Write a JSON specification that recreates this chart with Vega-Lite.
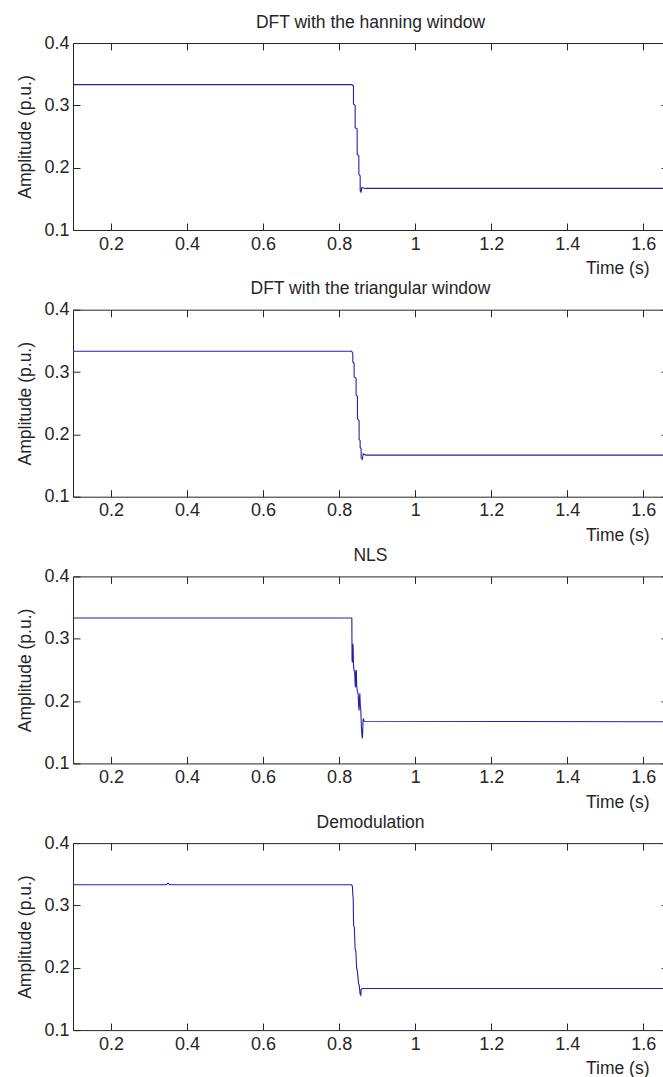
{
  "$schema": "https://vega.github.io/schema/vega-lite/v6.json",
  "background": "white",
  "padding": {"left": 16, "top": 13, "right": 0, "bottom": 0},
  "autosize": {"type": "pad"},
  "bounds": "flush",
  "spacing": 79.7,
  "datasets": {
    "hanning": [
      {"t": 0.1, "a": 0.3333}, {"t": 0.8334, "a": 0.3333}, {"t": 0.8377, "a": 0.331}, {"t": 0.8378, "a": 0.302},
      {"t": 0.8421, "a": 0.300}, {"t": 0.8422, "a": 0.264}, {"t": 0.8474, "a": 0.262}, {"t": 0.8475, "a": 0.221},
      {"t": 0.8518, "a": 0.219}, {"t": 0.8519, "a": 0.189}, {"t": 0.8553, "a": 0.187}, {"t": 0.8554, "a": 0.163},
      {"t": 0.8575, "a": 0.161}, {"t": 0.8597, "a": 0.168}, {"t": 0.87, "a": 0.1667}, {"t": 1.665, "a": 0.1667}
    ],
    "triangular": [
      {"t": 0.1, "a": 0.3333}, {"t": 0.833, "a": 0.3333}, {"t": 0.8359, "a": 0.330}, {"t": 0.836, "a": 0.316},
      {"t": 0.8394, "a": 0.314}, {"t": 0.8395, "a": 0.292}, {"t": 0.8446, "a": 0.290}, {"t": 0.8447, "a": 0.263},
      {"t": 0.8481, "a": 0.261}, {"t": 0.8482, "a": 0.225}, {"t": 0.8525, "a": 0.222}, {"t": 0.8526, "a": 0.192},
      {"t": 0.8552, "a": 0.190}, {"t": 0.8553, "a": 0.179}, {"t": 0.8578, "a": 0.177}, {"t": 0.8579, "a": 0.162},
      {"t": 0.861, "a": 0.160}, {"t": 0.8635, "a": 0.169}, {"t": 0.87, "a": 0.1667}, {"t": 1.665, "a": 0.1667}
    ],
    "nls": [
      {"t": 0.1, "a": 0.3333}, {"t": 0.8334, "a": 0.3333}, {"t": 0.834, "a": 0.265}, {"t": 0.835, "a": 0.262},
      {"t": 0.836, "a": 0.292}, {"t": 0.8368, "a": 0.287}, {"t": 0.8378, "a": 0.258}, {"t": 0.839, "a": 0.250},
      {"t": 0.841, "a": 0.246}, {"t": 0.842, "a": 0.228}, {"t": 0.843, "a": 0.222}, {"t": 0.844, "a": 0.248},
      {"t": 0.8452, "a": 0.250}, {"t": 0.8462, "a": 0.225}, {"t": 0.848, "a": 0.215}, {"t": 0.85, "a": 0.212},
      {"t": 0.8515, "a": 0.190}, {"t": 0.8525, "a": 0.185}, {"t": 0.8535, "a": 0.205}, {"t": 0.8545, "a": 0.212},
      {"t": 0.8555, "a": 0.195}, {"t": 0.857, "a": 0.185}, {"t": 0.8585, "a": 0.160}, {"t": 0.86, "a": 0.145},
      {"t": 0.861, "a": 0.140}, {"t": 0.862, "a": 0.150}, {"t": 0.863, "a": 0.170}, {"t": 0.864, "a": 0.171},
      {"t": 0.866, "a": 0.1675}, {"t": 1.665, "a": 0.1667}
    ],
    "demod": [
      {"t": 0.1, "a": 0.3333}, {"t": 0.345, "a": 0.3333}, {"t": 0.348, "a": 0.3345}, {"t": 0.35, "a": 0.3355},
      {"t": 0.352, "a": 0.3345}, {"t": 0.355, "a": 0.3333}, {"t": 0.833, "a": 0.3333}, {"t": 0.835, "a": 0.330},
      {"t": 0.836, "a": 0.316}, {"t": 0.837, "a": 0.312}, {"t": 0.838, "a": 0.268}, {"t": 0.84, "a": 0.265},
      {"t": 0.842, "a": 0.231}, {"t": 0.844, "a": 0.226}, {"t": 0.846, "a": 0.200}, {"t": 0.848, "a": 0.195},
      {"t": 0.851, "a": 0.175}, {"t": 0.853, "a": 0.172}, {"t": 0.855, "a": 0.158}, {"t": 0.857, "a": 0.156},
      {"t": 0.858, "a": 0.165}, {"t": 0.861, "a": 0.1667}, {"t": 1.665, "a": 0.1667}
    ]
  },
  "vconcat": [
    {
      "data": {"name": "hanning"},
      "title": {"text": "DFT with the hanning window"},
      "width": 595, "height": 187,
      "layer": [
        {"mark": {"type": "line", "color": "#2222a8", "strokeWidth": 1.1, "clip": true},
         "encoding": {
           "x": {"field": "t", "type": "quantitative", "scale": {"domain": [0.1, 1.665], "nice": false, "zero": false},
                 "axis": {"orient": "bottom", "values": [0.2, 0.4, 0.6, 0.8, 1, 1.2, 1.4, 1.6], "format": "~g", "labelPadding": 12, "title": "Time (s)", "titleX": 576, "titleY": 43.7, "titleAlign": "right", "titleBaseline": "alphabetic"}},
           "y": {"field": "a", "type": "quantitative", "scale": {"domain": [0.1, 0.4], "nice": false, "zero": false},
                 "axis": {"orient": "left", "values": [0.1, 0.2, 0.3, 0.4], "format": ".1f", "labelPadding": 11, "title": "Amplitude (p.u.)", "titleX": -48, "titleY": 93.5, "titleAlign": "center", "titleBaseline": "middle", "titleAngle": -90}}
         }},
        {"mark": {"type": "point", "opacity": 0, "size": 0},
         "encoding": {
           "x": {"field": "t", "type": "quantitative", "scale": {"domain": [0.1, 1.665], "nice": false, "zero": false},
                 "axis": {"orient": "top", "values": [0.2, 0.4, 0.6, 0.8, 1, 1.2, 1.4, 1.6], "labels": false, "title": null}},
           "y": {"field": "a", "type": "quantitative", "scale": {"domain": [0.1, 0.4], "nice": false, "zero": false},
                 "axis": {"orient": "right", "values": [0.1, 0.2, 0.3, 0.4], "labels": false, "title": null}}
         }}
      ],
      "resolve": {"axis": {"x": "independent", "y": "independent"}}
    },
    {
      "data": {"name": "triangular"},
      "title": {"text": "DFT with the triangular window"},
      "width": 595, "height": 187,
      "layer": [
        {"mark": {"type": "line", "color": "#2222a8", "strokeWidth": 1.1, "clip": true},
         "encoding": {
           "x": {"field": "t", "type": "quantitative", "scale": {"domain": [0.1, 1.665], "nice": false, "zero": false},
                 "axis": {"orient": "bottom", "values": [0.2, 0.4, 0.6, 0.8, 1, 1.2, 1.4, 1.6], "format": "~g", "labelPadding": 12, "title": "Time (s)", "titleX": 576, "titleY": 43.7, "titleAlign": "right", "titleBaseline": "alphabetic"}},
           "y": {"field": "a", "type": "quantitative", "scale": {"domain": [0.1, 0.4], "nice": false, "zero": false},
                 "axis": {"orient": "left", "values": [0.1, 0.2, 0.3, 0.4], "format": ".1f", "labelPadding": 11, "title": "Amplitude (p.u.)", "titleX": -48, "titleY": 93.5, "titleAlign": "center", "titleBaseline": "middle", "titleAngle": -90}}
         }},
        {"mark": {"type": "point", "opacity": 0, "size": 0},
         "encoding": {
           "x": {"field": "t", "type": "quantitative", "scale": {"domain": [0.1, 1.665], "nice": false, "zero": false},
                 "axis": {"orient": "top", "values": [0.2, 0.4, 0.6, 0.8, 1, 1.2, 1.4, 1.6], "labels": false, "title": null}},
           "y": {"field": "a", "type": "quantitative", "scale": {"domain": [0.1, 0.4], "nice": false, "zero": false},
                 "axis": {"orient": "right", "values": [0.1, 0.2, 0.3, 0.4], "labels": false, "title": null}}
         }}
      ],
      "resolve": {"axis": {"x": "independent", "y": "independent"}}
    },
    {
      "data": {"name": "nls"},
      "title": {"text": "NLS"},
      "width": 595, "height": 187,
      "layer": [
        {"mark": {"type": "line", "color": "#2222a8", "strokeWidth": 1.1, "clip": true},
         "encoding": {
           "x": {"field": "t", "type": "quantitative", "scale": {"domain": [0.1, 1.665], "nice": false, "zero": false},
                 "axis": {"orient": "bottom", "values": [0.2, 0.4, 0.6, 0.8, 1, 1.2, 1.4, 1.6], "format": "~g", "labelPadding": 12, "title": "Time (s)", "titleX": 576, "titleY": 43.7, "titleAlign": "right", "titleBaseline": "alphabetic"}},
           "y": {"field": "a", "type": "quantitative", "scale": {"domain": [0.1, 0.4], "nice": false, "zero": false},
                 "axis": {"orient": "left", "values": [0.1, 0.2, 0.3, 0.4], "format": ".1f", "labelPadding": 11, "title": "Amplitude (p.u.)", "titleX": -48, "titleY": 93.5, "titleAlign": "center", "titleBaseline": "middle", "titleAngle": -90}}
         }},
        {"mark": {"type": "point", "opacity": 0, "size": 0},
         "encoding": {
           "x": {"field": "t", "type": "quantitative", "scale": {"domain": [0.1, 1.665], "nice": false, "zero": false},
                 "axis": {"orient": "top", "values": [0.2, 0.4, 0.6, 0.8, 1, 1.2, 1.4, 1.6], "labels": false, "title": null}},
           "y": {"field": "a", "type": "quantitative", "scale": {"domain": [0.1, 0.4], "nice": false, "zero": false},
                 "axis": {"orient": "right", "values": [0.1, 0.2, 0.3, 0.4], "labels": false, "title": null}}
         }}
      ],
      "resolve": {"axis": {"x": "independent", "y": "independent"}}
    },
    {
      "data": {"name": "demod"},
      "title": {"text": "Demodulation"},
      "width": 595, "height": 187,
      "layer": [
        {"mark": {"type": "line", "color": "#2222a8", "strokeWidth": 1.1, "clip": true},
         "encoding": {
           "x": {"field": "t", "type": "quantitative", "scale": {"domain": [0.1, 1.665], "nice": false, "zero": false},
                 "axis": {"orient": "bottom", "values": [0.2, 0.4, 0.6, 0.8, 1, 1.2, 1.4, 1.6], "format": "~g", "labelPadding": 12, "title": "Time (s)", "titleX": 576, "titleY": 43.7, "titleAlign": "right", "titleBaseline": "alphabetic"}},
           "y": {"field": "a", "type": "quantitative", "scale": {"domain": [0.1, 0.4], "nice": false, "zero": false},
                 "axis": {"orient": "left", "values": [0.1, 0.2, 0.3, 0.4], "format": ".1f", "labelPadding": 11, "title": "Amplitude (p.u.)", "titleX": -48, "titleY": 93.5, "titleAlign": "center", "titleBaseline": "middle", "titleAngle": -90}}
         }},
        {"mark": {"type": "point", "opacity": 0, "size": 0},
         "encoding": {
           "x": {"field": "t", "type": "quantitative", "scale": {"domain": [0.1, 1.665], "nice": false, "zero": false},
                 "axis": {"orient": "top", "values": [0.2, 0.4, 0.6, 0.8, 1, 1.2, 1.4, 1.6], "labels": false, "title": null}},
           "y": {"field": "a", "type": "quantitative", "scale": {"domain": [0.1, 0.4], "nice": false, "zero": false},
                 "axis": {"orient": "right", "values": [0.1, 0.2, 0.3, 0.4], "labels": false, "title": null}}
         }}
      ],
      "resolve": {"axis": {"x": "independent", "y": "independent"}}
    }
  ],
  "config": {
    "view": {"stroke": null},
    "font": "Liberation Sans",
    "title": {"fontSize": 17.5, "fontWeight": "normal", "color": "#262626", "font": "Liberation Sans", "frame": "group", "anchor": "middle", "offset": 3, "baseline": "alphabetic"},
    "axis": {
      "grid": false, "domainColor": "#262626", "domainWidth": 1, "tickColor": "#262626", "tickWidth": 1, "tickSize": -7,
      "labelColor": "#262626", "labelFont": "Liberation Sans", "labelFontSize": 18, "labelFlush": false, "labelOverlap": false,
      "titleColor": "#262626", "titleFont": "Liberation Sans", "titleFontSize": 17.5, "titleFontWeight": "normal"
    }
  }
}
